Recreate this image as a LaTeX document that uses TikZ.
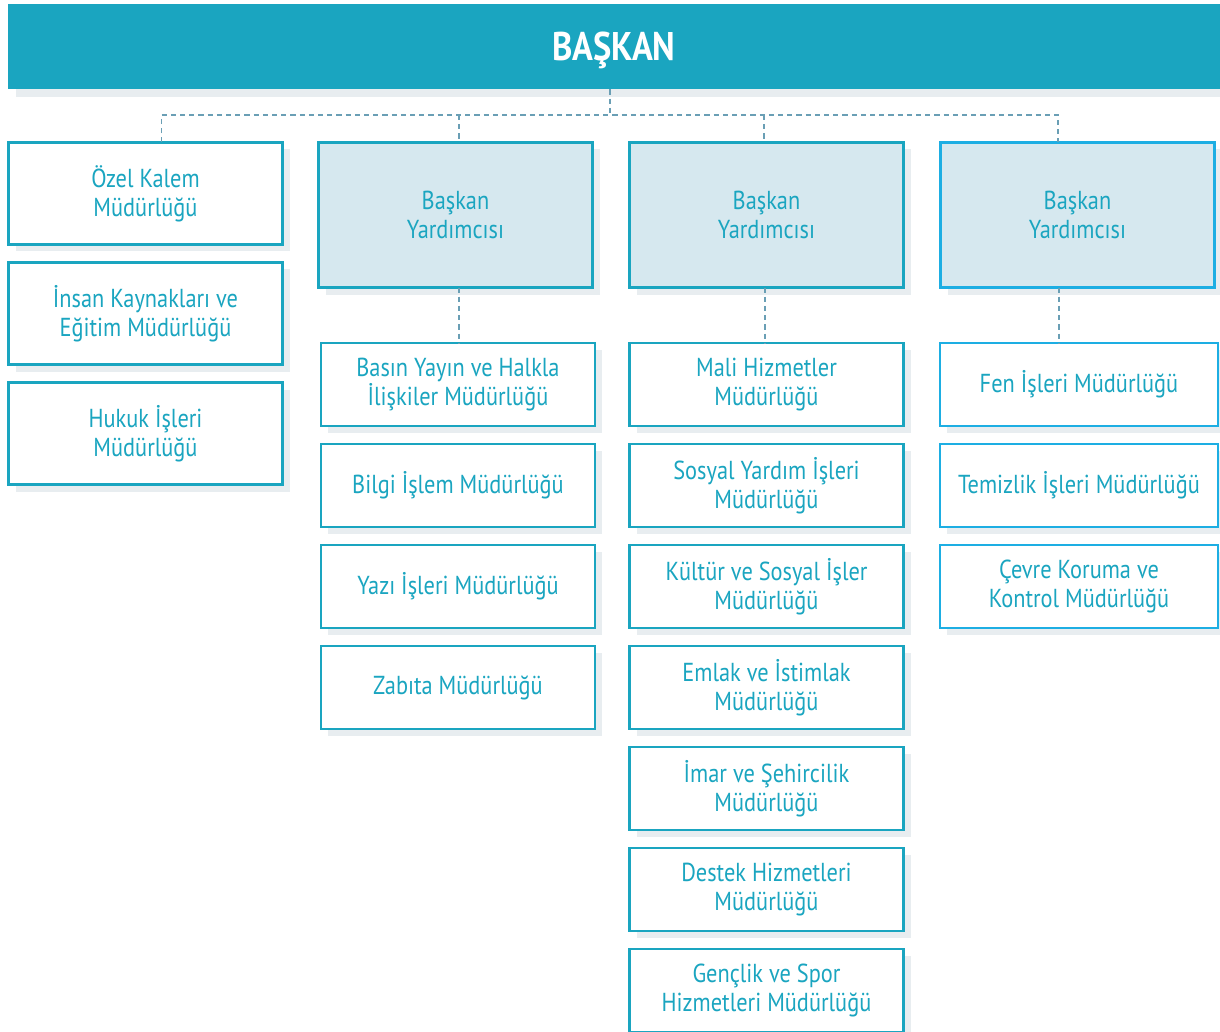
\documentclass[tikz,border=0pt]{standalone}
\usepackage{fontspec}
\setmainfont{PT Sans}[FakeStretch=0.86]
\usepackage{tikz}
\usetikzlibrary{positioning, shadows}
\definecolor{teal1}{HTML}{1AA5C0}
\definecolor{blue1}{HTML}{1DAEE3}
\definecolor{paleb}{HTML}{D6E8EF}
\definecolor{shade}{HTML}{E8EDF0}
\definecolor{dashc}{HTML}{6A9FB5}
\tikzstyle{box} = [rectangle, align=center, draw=teal1, line width=1.4pt, text=teal1, fill=white, inner sep=0pt, outer sep=0pt, minimum width=137pt, font=\fontsize{13}{14.5}\selectfont, drop shadow={shadow xshift=3.5pt, shadow yshift=-3.5pt, fill=shade, opacity=1}]
\tikzstyle{unit} = [box, minimum height=51pt]
\tikzstyle{vice} = [box, fill=paleb, minimum height=72.5pt]
\tikzstyle{sub} = [box, minimum height=41.5pt]
\tikzstyle{dline} = [dashc, line width=0.7pt, dash pattern=on 2.6pt off 2pt]

\begin{document}
\begin{tikzpicture}[x=0.5pt, y=-0.5pt, node distance=9pt]
\useasboundingbox (0,0) rectangle (1220,1032);

\node(B)[rectangle, fill=teal1, minimum width=606pt, minimum height=42.5pt, inner sep=0pt, text height=14pt, text depth=0pt, text=white, font=\fontsize{20}{24}\bfseries\selectfont, drop shadow={shadow xshift=4pt, shadow yshift=-4pt, fill=shade, opacity=1}] at (614,46.5) {BAŞKAN};

\node(O1)[unit] at (145.5,193.5) {Özel Kalem\\Müdürlüğü};
\node(O2)[unit, below = of O1] {İnsan Kaynakları ve\\Eğitim Müdürlüğü};
\node(O3)[unit, below = of O2] {Hukuk İşleri\\Müdürlüğü};

\node(Y1)[vice] at (455.5,215) {Başkan\\Yardımcısı};
\node(Y2)[vice] at (766.5,215) {Başkan\\Yardımcısı};
\node(Y3)[vice, draw=blue1] at (1077.5,215) {Başkan\\Yardımcısı};

\node(M1)[sub] at (458,384.5) {Basın Yayın ve Halkla\\İlişkiler Müdürlüğü};
\node(M2)[sub, below = of M1] {Bilgi İşlem Müdürlüğü};
\node(M3)[sub, below = of M2] {Yazı İşleri Müdürlüğü};
\node(M4)[sub, below = of M3] {Zabıta Müdürlüğü};

\node(H1)[sub] at (766.5,384.5) {Mali Hizmetler\\Müdürlüğü};
\node(H2)[sub, below = of H1] {Sosyal Yardım İşleri\\Müdürlüğü};
\node(H3)[sub, below = of H2] {Kültür ve Sosyal İşler\\Müdürlüğü};
\node(H4)[sub, below = of H3] {Emlak ve İstimlak\\Müdürlüğü};
\node(H5)[sub, below = of H4] {İmar ve Şehircilik\\Müdürlüğü};
\node(H6)[sub, below = of H5] {Destek Hizmetleri\\Müdürlüğü};
\node(H7)[sub, below = of H6] {Gençlik ve Spor\\Hizmetleri Müdürlüğü};

\node(F1)[sub, draw=blue1, minimum width=139pt] at (1079,384.5) {Fen İşleri Müdürlüğü};
\node(F2)[sub, draw=blue1, minimum width=139pt, below = of F1] {Temizlik İşleri Müdürlüğü};
\node(F3)[sub, draw=blue1, minimum width=139pt, below = of F2] {Çevre Koruma ve\\Kontrol Müdürlüğü};

\coordinate(J) at (610,115);
\draw [dline] ([xshift=-2pt]B.south) -- (J);
\draw [dline] ([xshift=8pt]O1.north) -- ([xshift=8pt]O1.north |- J) -- ([xshift=-9.7pt]Y3.north |- J) -- ([xshift=-9.7pt]Y3.north);
\draw [dline] ([xshift=1.7pt]Y1.north |- J) -- ([xshift=1.7pt]Y1.north);
\draw [dline] ([xshift=-1.2pt]Y2.north |- J) -- ([xshift=-1.2pt]Y2.north);

\draw [dline] ([xshift=1.7pt]Y1.south) -- ([xshift=1.7pt]Y1.south |- M1.north);
\draw [dline] ([xshift=-0.7pt]Y2.south) -- ([xshift=-0.7pt]Y2.south |- H1.north);
\draw [dline] ([xshift=-9.2pt]Y3.south) -- ([xshift=-9.2pt]Y3.south |- F1.north);

\end{tikzpicture}
\end{document}
